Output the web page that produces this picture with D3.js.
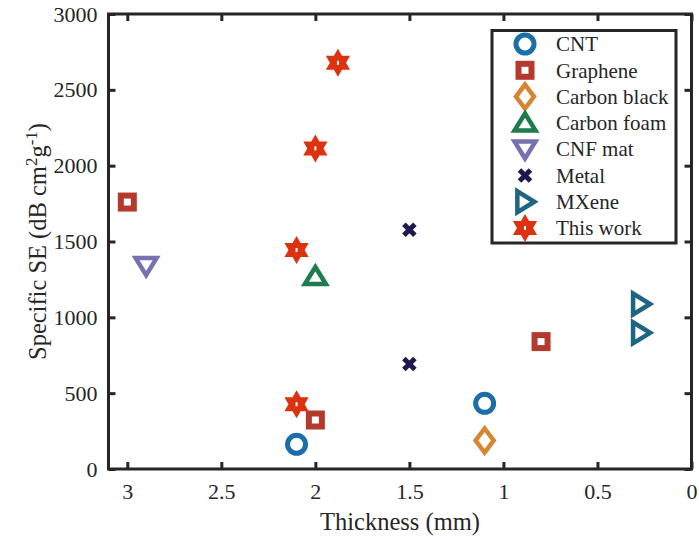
<!DOCTYPE html>
<html><head><meta charset="utf-8">
<script src="https://cdn.jsdelivr.net/npm/d3@7"></script>
<style>body{margin:0;background:#fff}svg{display:block}</style>
</head><body><svg id="c" width="699" height="539"></svg>
<script>
// ---- data ----
const seriesNames = ["CNT","Graphene","Carbon black","Carbon foam","CNF mat","Metal","MXene","This work"];
const seriesColors = ["#1b6ea8","#b33a2c","#d88530","#1e7b4c","#7672b2","#1c1a4f","#1e6581","#dc3210"];
const seriesMarkers = ["circle","square","diamond","triUp","triDown","x","triRight","hexagram"];
const cntX = [2.1, 1.1],            cntY = [163, 433];
const grapheneX = [3.0, 2.0, 0.8],  grapheneY = [1760, 323, 840];
const carbonBlackX = [1.1],         carbonBlackY = [188];
const carbonFoamX = [2.0],          carbonFoamY = [1270];
const cnfX = [2.9],                 cnfY = [1340];
const metalX = [1.5, 1.5],          metalY = [1578, 692];
const mxeneX = [0.27, 0.27],        mxeneY = [1088, 898];
const thisWorkX = [1.88, 2.0, 2.1, 2.1], thisWorkY = [2678, 2114, 1444, 427];
const xTicks = [3, 2.5, 2, 1.5, 1, 0.5, 0];
const yTicks = [0, 500, 1000, 1500, 2000, 2500, 3000];
const seriesX = [cntX, grapheneX, carbonBlackX, carbonFoamX, cnfX, metalX, mxeneX, thisWorkX];
const seriesY = [cntY, grapheneY, carbonBlackY, carbonFoamY, cnfY, metalY, mxeneY, thisWorkY];

// ---- layout ----
const FONT = "'Liberation Serif','Times New Roman',Times,serif";
const L = 108.5, R = 691.5, T = 14, B = 469;
const svg = d3.select("#c");
const x = d3.scaleLinear().domain([3.1, 0]).range([L, R]);
const y = d3.scaleLinear().domain([0, 3000]).range([B, T]);
const axisCol = "#262626";
const tickLen = 7;

// axes (box with mirrored inward ticks)
const gB = svg.append("g").attr("transform", `translate(0,${B})`)
  .call(d3.axisBottom(x).tickValues(xTicks).tickSize(-tickLen).tickPadding(14).tickFormat(d3.format("~g")));
const gT = svg.append("g").attr("transform", `translate(0,${T})`)
  .call(d3.axisTop(x).tickValues(xTicks).tickSize(-tickLen).tickFormat(""));
const gL = svg.append("g").attr("transform", `translate(${L},0)`)
  .call(d3.axisLeft(y).tickValues(yTicks).tickSize(-tickLen).tickPadding(11).tickFormat(d3.format("d")));
const gR = svg.append("g").attr("transform", `translate(${R},0)`)
  .call(d3.axisRight(y).tickValues(yTicks).tickSize(-tickLen).tickFormat(""));
[gB, gT, gL, gR].forEach(g => {
  g.attr("font-family", FONT);
  g.select(".domain").remove();
  g.selectAll(".tick line").attr("stroke", axisCol).attr("stroke-width", 3);
  g.selectAll(".tick text").attr("font-size", 22).attr("fill", axisCol);
});
gB.selectAll(".tick text").attr("dy", "0.71em");
svg.append("rect").attr("x", L).attr("y", T).attr("width", R - L).attr("height", B - T)
  .attr("fill", "none").attr("stroke", axisCol).attr("stroke-width", 3);

// axis labels
svg.append("text").attr("x", (L + R) / 2).attr("y", 530).attr("text-anchor", "middle")
  .attr("font-size", 24.5).attr("fill", axisCol).text("Thickness (mm)");
const yl = svg.append("text").attr("transform", `translate(46,${(T + B) / 2}) rotate(-90)`)
  .attr("text-anchor", "middle").attr("font-size", 24.5).attr("fill", axisCol);
yl.append("tspan").text("Specific SE (dB cm");
yl.append("tspan").attr("baseline-shift", "super").attr("font-size", 17).text("2");
yl.append("tspan").text("g");
yl.append("tspan").attr("baseline-shift", "super").attr("font-size", 17).text("-1");
yl.append("tspan").text(")");

// marker drawing
function tri(a, h) { return `M0,${-h*0.55}L${a},${h*0.45}L${-a},${h*0.45}Z`; }
function drawMarker(g, type, color) {
  const sw = 4.5;
  if (type === "circle") {
    g.append("circle").attr("r", 9).attr("fill", "none").attr("stroke", color).attr("stroke-width", 5);
  } else if (type === "square") {
    g.append("rect").attr("x", -6.5).attr("y", -6.5).attr("width", 13).attr("height", 13)
      .attr("fill", "none").attr("stroke", color).attr("stroke-width", 6);
  } else if (type === "diamond") {
    g.append("path").attr("d", "M0,-12L9,0L0,12L-9,0Z").attr("fill", "none").attr("stroke", color)
      .attr("stroke-width", sw).attr("stroke-linejoin", "miter");
  } else if (type === "triUp" || type === "triDown" || type === "triRight") {
    const rot = type === "triUp" ? 0 : type === "triDown" ? 180 : 90;
    g.append("path").attr("d", tri(10.5, 17)).attr("transform", `rotate(${rot})`)
      .attr("fill", "none").attr("stroke", color).attr("stroke-width", sw).attr("stroke-linejoin", "miter")
      .attr("stroke-miterlimit", 10);
  } else if (type === "x") {
    g.append("path").attr("d", "M-5.5,-5.5L5.5,5.5M-5.5,5.5L5.5,-5.5").attr("stroke", color)
      .attr("stroke-width", 5).attr("fill", "none");
  } else if (type === "hexagram") {
    const Ro = 14, Ri = 14 / Math.sqrt(3);
    const pts = [];
    for (let i = 0; i < 12; i++) {
      const r = i % 2 === 0 ? Ro : Ri, ang = -Math.PI / 2 + i * Math.PI / 6;
      pts.push([r * Math.cos(ang), r * Math.sin(ang)]);
    }
    g.append("path").attr("d", "M" + pts.map(p => p.join(",")).join("L") + "Z").attr("fill", color);
    g.append("rect").attr("x", -1).attr("y", -2).attr("width", 2).attr("height", 4).attr("fill", "#fff");
  }
}

// data points
seriesNames.forEach((name, i) => {
  const xs = seriesX[i], ys = seriesY[i];
  xs.forEach((xv, j) => {
    const g = svg.append("g").attr("transform", `translate(${x(xv)},${y(ys[j])})`);
    drawMarker(g, seriesMarkers[i], seriesColors[i]);
  });
});

// legend
const lg = svg.append("g");
lg.append("rect").attr("x", 492).attr("y", 30.5).attr("width", 184).attr("height", 212.5)
  .attr("fill", "#fff").attr("stroke", axisCol).attr("stroke-width", 3);
const legY = d3.scalePoint().domain(seriesNames).range([44, 228]);
seriesNames.forEach((name, i) => {
  const g = lg.append("g").attr("transform", `translate(525,${legY(name)})`);
  drawMarker(g, seriesMarkers[i], seriesColors[i]);
  lg.append("text").attr("x", 556).attr("y", legY(name)).attr("dy", "0.35em")
    .attr("font-size", 21).attr("fill", axisCol).text(name);
});

svg.selectAll("text").style("font-family", FONT);
</script></body></html>
